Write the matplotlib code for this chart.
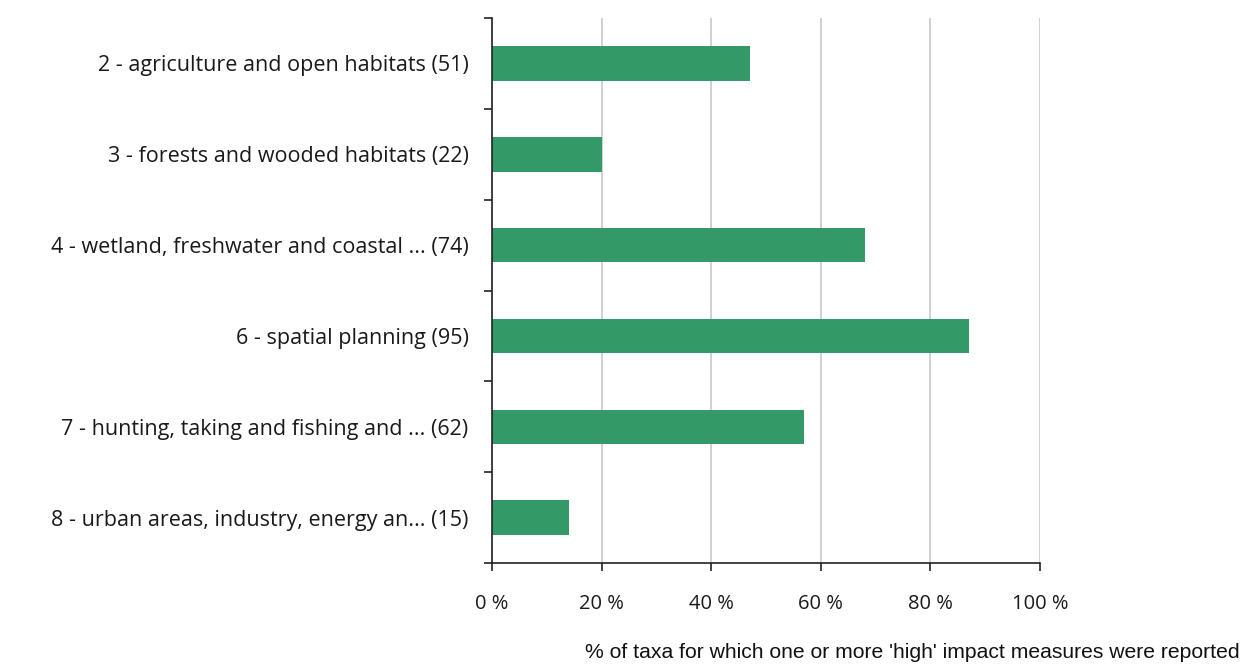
import matplotlib
matplotlib.use("Agg")
import matplotlib.pyplot as plt
import numpy as np

categories = [
    "2 - agriculture and open habitats (51)",
    "3 - forests and wooded habitats (22)",
    "4 - wetland, freshwater and coastal ... (74)",
    "6 - spatial planning (95)",
    "7 - hunting, taking and fishing and ... (62)",
    "8 - urban areas, industry, energy an... (15)",
]
values = [47, 20, 68, 87, 57, 14]
xticks = [0, 20, 40, 60, 80, 100]
xlabel = "% of taxa for which one or more 'high' impact measures were reported"

fig = plt.figure(figsize=(12.47, 6.69), dpi=100)
ax = fig.add_axes([0.3946, 0.1584, 0.834 - 0.3946, 0.973 - 0.1584])

n = len(categories)
ypos = np.arange(n)
ax.barh(ypos, values, height=0.38, color="#339966", zorder=3)

ax.set_ylim(n - 0.5, -0.5)
ax.set_xlim(0, 100)

ax.set_yticks(ypos)
ax.set_yticklabels(categories, fontfamily="Open Sans", fontsize=15.5, color="#1a1a1a")
ax.set_yticks(np.arange(-0.5, n, 1), minor=True)
ax.tick_params(axis="y", which="major", length=0, pad=17)
ax.tick_params(axis="y", which="minor", length=6, width=1.2, color="#222222")

ax.set_xticks(xticks)
ax.set_xticklabels([f"{t} %" for t in xticks], fontfamily="Open Sans", fontsize=14.5, color="#1a1a1a")
ax.tick_params(axis="x", length=6, width=1.2, color="#222222", pad=16)

ax.grid(axis="x", color="#c8c8c8", linewidth=1.2, zorder=0)
for s in ["top", "right"]:
    ax.spines[s].set_visible(False)
for s in ["left", "bottom"]:
    ax.spines[s].set_color("#222222")
    ax.spines[s].set_linewidth(1.2)
    ax.spines[s].set_zorder(4)

fig.text(0.994, 0.017, xlabel, ha="right", va="baseline",
         fontfamily="Liberation Sans", fontsize=15.2, color="#111111")

fig.savefig("out.png", dpi=100)
